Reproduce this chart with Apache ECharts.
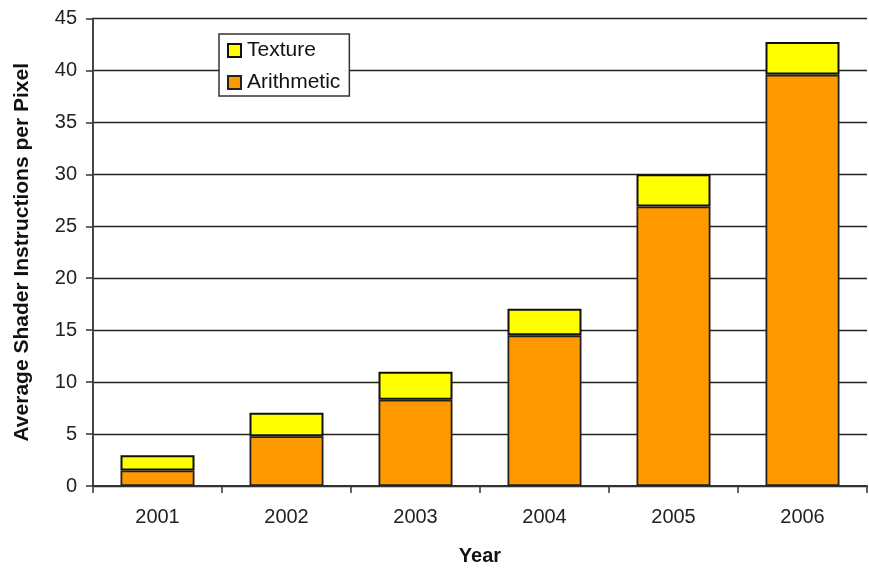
<!DOCTYPE html>
<html>
<head>
<meta charset="utf-8">
<script src="https://cdn.jsdelivr.net/npm/echarts@6/dist/echarts.min.js"></script>
<style>
  html, body { margin: 0; padding: 0; background: #fff; }
  #chart { width: 869px; height: 571px; }
</style>
</head>
<body>
<div id="chart"></div>
<script>
// Shader instruction mix per pixel, by year
const years = ['2001', '2002', '2003', '2004', '2005', '2006'];
const arithmetic = [1.5, 4.8, 8.3, 14.5, 26.9, 39.6];
const texture = [1.45, 2.25, 2.7, 2.55, 3.1, 3.15];
const yTicks = { min: 0, max: 45, interval: 5 };

const font = 'Liberation Sans, Arial, sans-serif';
const chart = echarts.init(document.getElementById('chart'), null, { renderer: 'canvas' });

chart.setOption({
  backgroundColor: '#ffffff',
  animation: false,
  grid: { left: 93, right: 2, top: 18.5, bottom: 81 },
  legend: {
    orient: 'vertical',
    left: 219,
    top: 34,
    padding: [6, 9, 3, 8],
    itemGap: 11,
    itemWidth: 13,
    itemHeight: 13,
    backgroundColor: '#ffffff',
    borderColor: '#333',
    borderWidth: 1.5,
    data: [
      { name: 'Texture', icon: 'rect' },
      { name: 'Arithmetic', icon: 'rect' }
    ],
    textStyle: { fontFamily: font, fontSize: 21, color: '#111', padding: [0, 0, 0, 1] }
  },
  xAxis: {
    type: 'category',
    data: years,
    boundaryGap: true,
    name: 'Year',
    nameLocation: 'middle',
    nameGap: 60,
    nameTextStyle: { fontFamily: font, fontSize: 20, fontWeight: 'bold', color: '#111' },
    axisLine: { lineStyle: { color: '#333', width: 2 } },
    axisTick: { show: true, length: 7, alignWithLabel: false, lineStyle: { color: '#333', width: 1.5 } },
    axisLabel: { fontFamily: font, fontSize: 20, color: '#222', margin: 21 }
  },
  yAxis: {
    type: 'value',
    min: yTicks.min,
    max: yTicks.max,
    interval: yTicks.interval,
    name: 'Average Shader Instructions per Pixel',
    nameLocation: 'middle',
    nameGap: 60,
    nameTextStyle: { fontFamily: font, fontSize: 21, fontWeight: 'bold', color: '#111' },
    axisLine: { show: true, lineStyle: { color: '#444', width: 2 } },
    axisTick: { show: true, length: 7, lineStyle: { color: '#333', width: 1.5 } },
    axisLabel: { fontFamily: font, fontSize: 20, color: '#222', margin: 16 },
    splitLine: { show: true, lineStyle: { color: '#222', width: 1.3 } }
  },
  series: [
    {
      name: 'Arithmetic',
      type: 'bar',
      stack: 'total',
      data: arithmetic,
      barWidth: 74,
      itemStyle: { color: '#ff9900', borderColor: '#222', borderWidth: 1.8 }
    },
    {
      name: 'Texture',
      type: 'bar',
      stack: 'total',
      data: texture,
      barWidth: 74,
      itemStyle: { color: '#ffff00', borderColor: '#111', borderWidth: 2 }
    }
  ]
});
</script>
</body>
</html>
